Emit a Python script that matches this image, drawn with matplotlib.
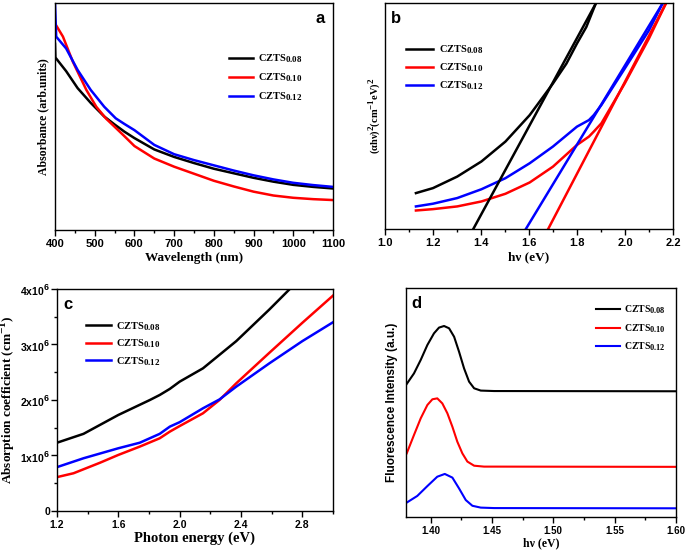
import numpy as np
import matplotlib
matplotlib.use("Agg")
from matplotlib import pyplot as plt
from matplotlib.ticker import MultipleLocator
import matplotlib._mathtext as _mt

# sub/superscripts in the original are barely smaller than the body text
_mt.SHRINK_FACTOR = 0.85

plt.rcParams['mathtext.fontset'] = 'custom'
plt.rcParams['mathtext.rm'] = 'Liberation Serif:bold'
plt.rcParams['mathtext.bf'] = 'Liberation Serif:bold'
plt.rcParams['mathtext.sf'] = 'Liberation Sans:bold'

labels = [r'CZTS$_{0.08}$', r'CZTS$_{0.10}$', r'CZTS$_{0.12}$']
colors = ['black', 'red', 'blue']

# ---- panel a: absorbance vs wavelength
a_x08 = [400, 401, 428, 457, 490, 524, 550, 575, 600, 650, 700, 750, 800, 850, 900, 950, 1000, 1050, 1100]
a_y08 = [0.82, 0.76, 0.70, 0.625, 0.56, 0.50, 0.465, 0.433, 0.405, 0.355, 0.322, 0.295, 0.27, 0.25, 0.23, 0.213, 0.199, 0.19, 0.183]
a_x10 = [400, 420, 445, 479, 504, 529, 550, 575, 600, 650, 700, 750, 800, 850, 900, 950, 1000, 1050, 1100]
a_y10 = [0.91, 0.852, 0.741, 0.617, 0.543, 0.49, 0.455, 0.413, 0.37, 0.315, 0.279, 0.248, 0.217, 0.192, 0.169, 0.152, 0.142, 0.136, 0.132]
a_x12 = [400, 403, 428, 457, 490, 524, 553, 575, 600, 650, 700, 750, 800, 850, 900, 950, 1000, 1050, 1100]
a_y12 = [0.999, 0.852, 0.80, 0.705, 0.617, 0.543, 0.492, 0.467, 0.44, 0.375, 0.334, 0.308, 0.285, 0.262, 0.241, 0.223, 0.208, 0.198, 0.19]

# ---- panel b: Tauc plot
b_x08 = [1.129, 1.2, 1.301, 1.402, 1.502, 1.603, 1.70, 1.756, 1.80, 1.839, 1.878]
b_y08 = [0.159, 0.181, 0.232, 0.299, 0.387, 0.504, 0.644, 0.732, 0.821, 0.894, 0.997]
b_x10 = [1.129, 1.2, 1.301, 1.402, 1.502, 1.603, 1.70, 1.80, 1.85, 1.87, 1.902, 1.999, 2.10, 2.17]
b_y10 = [0.082, 0.088, 0.10, 0.122, 0.156, 0.206, 0.276, 0.372, 0.409, 0.431, 0.468, 0.644, 0.843, 0.997]
b_x12 = [1.129, 1.2, 1.301, 1.402, 1.502, 1.603, 1.70, 1.80, 1.85, 1.87, 1.902, 1.999, 2.10, 2.156]
b_y12 = [0.10, 0.112, 0.137, 0.176, 0.225, 0.291, 0.365, 0.453, 0.482, 0.504, 0.549, 0.710, 0.879, 0.997]
# tangent lines (start, end)
b_fit_x = [[1.368, 1.878], [1.680, 2.170], [1.587, 2.156]]
b_fit_y = [[0.0, 0.997], [0.0, 0.997], [0.0, 0.997]]

# ---- panel c: absorption coefficient
c_x08 = [1.2, 1.373, 1.6, 1.806, 1.87, 1.936, 2.0, 2.152, 2.369, 2.585, 2.715]
c_y08 = [1.23e6, 1.39e6, 1.73e6, 2.0e6, 2.09e6, 2.2e6, 2.33e6, 2.57e6, 3.06e6, 3.63e6, 3.99e6]
c_x10 = [1.2, 1.308, 1.481, 1.6, 1.74, 1.87, 1.936, 2.0, 2.152, 2.26, 2.369, 2.585, 2.80, 3.0]
c_y10 = [0.61e6, 0.68e6, 0.87e6, 1.01e6, 1.16e6, 1.31e6, 1.43e6, 1.53e6, 1.76e6, 2.0e6, 2.30e6, 2.85e6, 3.39e6, 3.88e6]
c_x12 = [1.2, 1.373, 1.6, 1.74, 1.87, 1.936, 2.0, 2.152, 2.26, 2.369, 2.585, 2.80, 3.0]
c_y12 = [0.79e6, 0.95e6, 1.13e6, 1.23e6, 1.39e6, 1.52e6, 1.60e6, 1.85e6, 2.01e6, 2.24e6, 2.66e6, 3.06e6, 3.40e6]

# ---- panel d: fluorescence
d_x08 = [1.3806, 1.3865, 1.392, 1.3974, 1.4028, 1.4069, 1.411, 1.4151, 1.4192, 1.4232, 1.4273, 1.4314, 1.4355, 1.4409, 1.4518, 1.6]
d_y08 = [0.581, 0.627, 0.686, 0.751, 0.802, 0.827, 0.834, 0.824, 0.787, 0.722, 0.649, 0.591, 0.562, 0.552, 0.550, 0.549]
d_x10 = [1.3806, 1.3865, 1.392, 1.3974, 1.4015, 1.4055, 1.4096, 1.4137, 1.4178, 1.4218, 1.4259, 1.43, 1.4355, 1.4436, 1.4518, 1.6]
d_y10 = [0.278, 0.358, 0.431, 0.489, 0.514, 0.518, 0.496, 0.453, 0.394, 0.329, 0.278, 0.242, 0.224, 0.220, 0.220, 0.219]
d_x12 = [1.3806, 1.3892, 1.3974, 1.4055, 1.4116, 1.4178, 1.4232, 1.4287, 1.4341, 1.4409, 1.4518, 1.6]
d_y12 = [0.063, 0.092, 0.135, 0.176, 0.188, 0.172, 0.125, 0.074, 0.049, 0.041, 0.039, 0.038]

SERIF = 'Liberation Serif'
SANS = 'Liberation Sans'


def style(ax, fs=8):
    for s in ax.spines.values():
        s.set_linewidth(1.0)
    ax.tick_params(which='both', direction='out', top=False, right=False, pad=2.5)
    ax.tick_params(which='major', length=4, width=1)
    ax.tick_params(which='minor', length=2.5, width=1)
    for t in ax.get_xticklabels() + ax.get_yticklabels():
        t.set_fontfamily(SANS)
        t.set_fontweight('bold')
        t.set_fontsize(fs)


def legend(ax, anchor, fs=7.5, spacing=0.45, hl=2.3):
    leg = ax.legend(loc='upper left', bbox_to_anchor=anchor, frameon=False,
                    prop={'family': SERIF, 'weight': 'bold', 'size': fs},
                    handlelength=hl, handletextpad=0.5, labelspacing=spacing,
                    borderaxespad=0)
    return leg


fig = plt.figure(figsize=(6.85, 5.52), dpi=100)

# a
ax = fig.add_axes([0.0803, 0.5833, 0.4058, 0.4112])
for x, y, c, l in zip([a_x08, a_x10, a_x12], [a_y08, a_y10, a_y12], colors, labels):
    ax.plot(x, y, color=c, lw=1.8, label=l)
ax.set_xlim(400, 1100)
ax.set_ylim(0, 1.0)
ax.xaxis.set_major_locator(MultipleLocator(100))
ax.xaxis.set_minor_locator(MultipleLocator(50))
ax.set_yticks([])
style(ax)
ax.set_xlabel('Wavelength (nm)', family=SERIF, weight='bold', fontsize=9.5, labelpad=2)
ax.set_ylabel('Absorbance (arb.units)', family=SERIF, weight='bold', fontsize=8.5, labelpad=4)
ax.text(0.955, 0.965, 'a', transform=ax.transAxes, family=SANS, weight='bold',
        fontsize=12, ha='center', va='top')
legend(ax, (0.61, 0.80), spacing=0.6)

# b
ax = fig.add_axes([0.5620, 0.5851, 0.4204, 0.4094])
for x, y, c, l in zip([b_x08, b_x10, b_x12], [b_y08, b_y10, b_y12], colors, labels):
    ax.plot(x, y, color=c, lw=1.8, label=l)
for fx, fy, c in zip(b_fit_x, b_fit_y, colors):
    ax.plot(fx, fy, color=c, lw=1.8)
ax.set_xlim(1.0, 2.2)
ax.set_ylim(0, 1.0)
ax.xaxis.set_major_locator(MultipleLocator(0.2))
ax.xaxis.set_minor_locator(MultipleLocator(0.1))
ax.set_yticks([])
style(ax)
ax.set_xlabel('hν (eV)', family=SERIF, weight='bold', fontsize=9.5, labelpad=2)
ax.set_ylabel(r'(αhν)$^{2}$(cm$^{-1}$eV)$^{2}$', family=SERIF, weight='bold', fontsize=7.5, labelpad=2)
ax.text(0.04, 0.965, 'b', transform=ax.transAxes, family=SANS, weight='bold',
        fontsize=12, ha='center', va='top')
legend(ax, (0.06, 0.84), spacing=0.5, hl=2.6)

# c
ax = fig.add_axes([0.0832, 0.0743, 0.4029, 0.4022])
for x, y, c, l in zip([c_x08, c_x10, c_x12], [c_y08, c_y10, c_y12], colors, labels):
    ax.plot(x, y, color=c, lw=1.8, label=l)
ax.set_xlim(1.2, 3.0)
ax.set_ylim(0, 4e6)
ax.xaxis.set_major_locator(MultipleLocator(0.4))
ax.xaxis.set_minor_locator(MultipleLocator(0.2))
ax.set_yticks([0, 1e6, 2e6, 3e6, 4e6])
ax.set_yticklabels(['0', r'$\mathsf{1x10^{6}}$', r'$\mathsf{2x10^{6}}$',
                    r'$\mathsf{3x10^{6}}$', r'$\mathsf{4x10^{6}}$'])
ax.yaxis.set_minor_locator(MultipleLocator(0.5e6))
style(ax, fs=7.5)
ax.tick_params(axis='y', pad=1)
ax.set_xlabel('Photon energy (eV)', family=SERIF, weight='bold', fontsize=10.5, labelpad=1)
ax.set_ylabel(r'Absorption coefficient (cm$^{-1}$)', family=SERIF, weight='bold', fontsize=9.5)
ax.yaxis.set_label_coords(-0.14, 0.5)
ax.text(0.04, 0.965, 'c', transform=ax.transAxes, family=SANS, weight='bold',
        fontsize=12, ha='center', va='top')
legend(ax, (0.09, 0.88), hl=2.4)

# d
ax = fig.add_axes([0.5927, 0.0634, 0.3942, 0.4149])
for x, y, c, l in zip([d_x08, d_x10, d_x12], [d_y08, d_y10, d_y12], colors, labels):
    ax.plot(x, y, color=c, lw=1.5, label=l)
ax.set_xlim(1.38, 1.60)
ax.set_ylim(0, 1.0)
ax.xaxis.set_major_locator(MultipleLocator(0.05))
ax.xaxis.set_minor_locator(MultipleLocator(0.025))
ax.set_yticks([])
style(ax, fs=7)
ax.set_xlabel('hν (eV)', family=SERIF, weight='bold', fontsize=8.5, labelpad=1)
ax.set_ylabel('Fluorescence Intensity (a.u.)', family=SANS, weight='bold', fontsize=8.5, labelpad=6)
ax.text(0.04, 0.965, 'd', transform=ax.transAxes, family=SANS, weight='bold',
        fontsize=12, ha='center', va='top')
legend(ax, (0.69, 0.95), fs=7, spacing=0.6, hl=2.4)

fig.savefig('out.png', dpi=100)
